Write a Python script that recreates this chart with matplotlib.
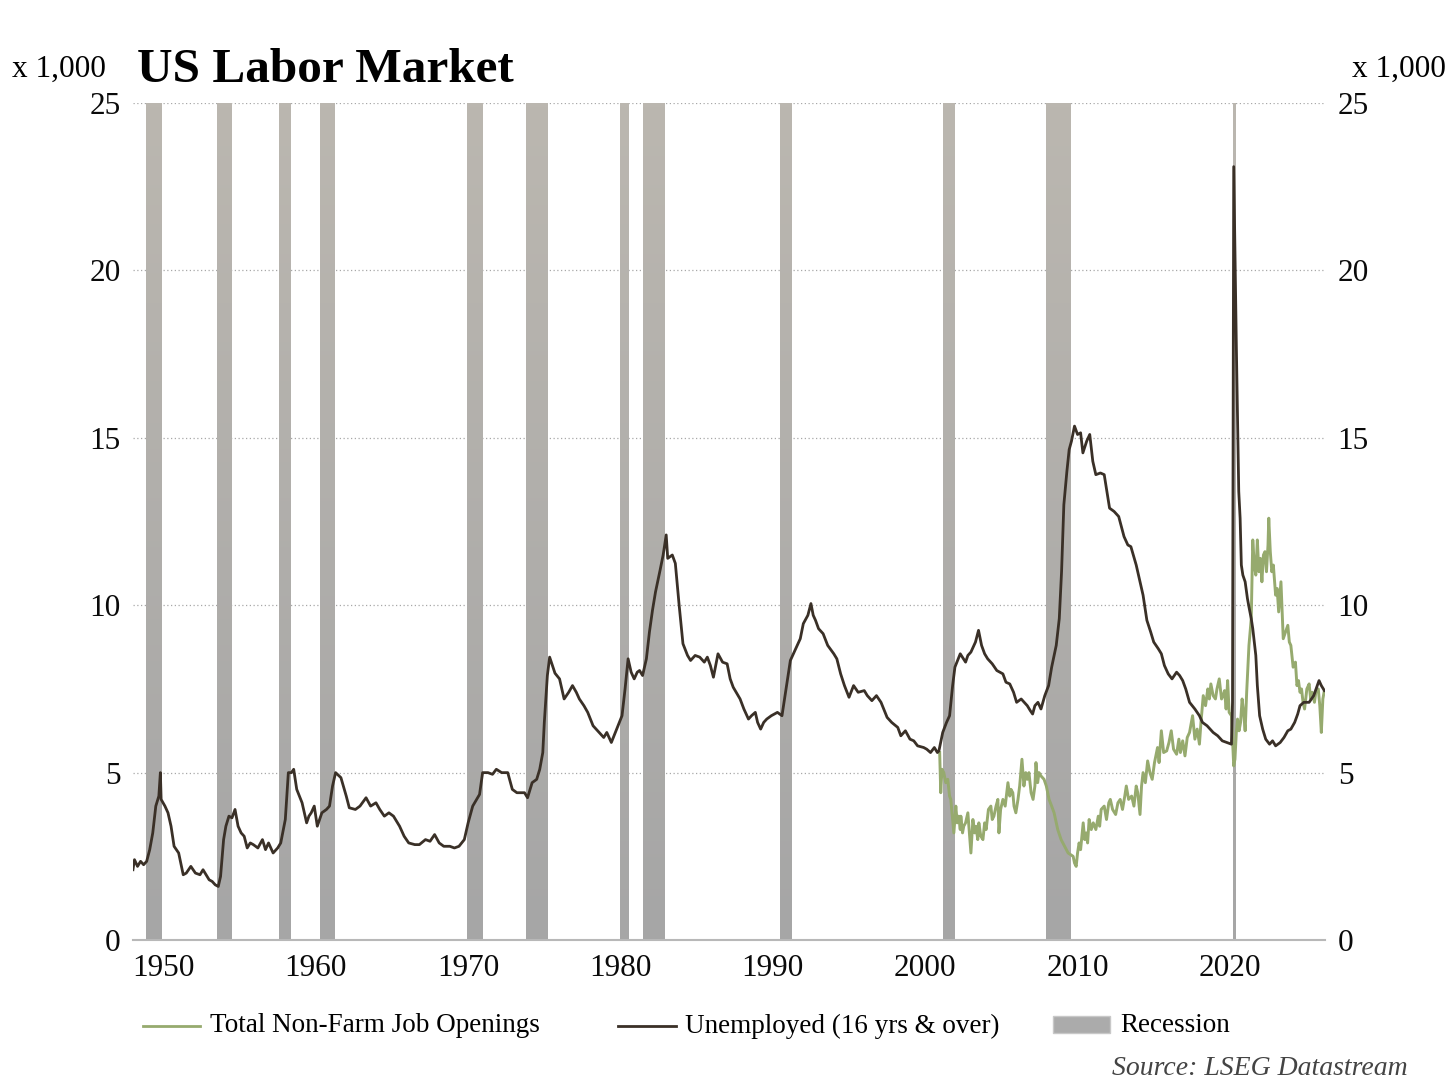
import matplotlib
matplotlib.use("Agg")
import matplotlib.pyplot as plt
import numpy as np
from matplotlib.lines import Line2D
from matplotlib.patches import Rectangle
from matplotlib.colors import LinearSegmentedColormap

plt.rcParams['font.family'] = ['Liberation Serif', 'DejaVu Serif']

# unemployed persons, 16 yrs & over (millions)
unemp_years = [
    1948.0, 1948.1, 1948.3, 1948.5, 1948.7, 1948.9, 1949.1, 1949.3, 1949.5, 1949.7,
    1949.8, 1949.85, 1950.1, 1950.3, 1950.5, 1950.7, 1951.0, 1951.3, 1951.5, 1951.8,
    1952.1, 1952.4, 1952.6, 1953.0, 1953.2, 1953.4, 1953.6, 1953.75, 1953.95, 1954.1,
    1954.3, 1954.5, 1954.7, 1954.9, 1955.1, 1955.3, 1955.5, 1955.7, 1955.9, 1956.2,
    1956.5, 1956.7, 1956.9, 1957.2, 1957.5, 1957.7, 1958.0, 1958.2, 1958.4, 1958.55,
    1958.75, 1959.1, 1959.4, 1959.55, 1959.7, 1959.9, 1960.1, 1960.4, 1960.7, 1960.9,
    1961.1, 1961.3, 1961.65, 1962.0, 1962.2, 1962.6, 1962.9, 1963.3, 1963.6, 1963.95,
    1964.2, 1964.5, 1964.8, 1965.1, 1965.5, 1965.8, 1966.1, 1966.5, 1966.8, 1967.2,
    1967.5, 1967.8, 1968.1, 1968.4, 1968.8, 1969.1, 1969.4, 1969.75, 1970.0, 1970.3,
    1970.75, 1970.95, 1971.3, 1971.6, 1971.85, 1972.2, 1972.6, 1972.9, 1973.2, 1973.7,
    1973.9, 1974.2, 1974.5, 1974.7, 1974.9, 1975.0, 1975.2, 1975.35, 1975.7, 1976.0,
    1976.3, 1976.6, 1976.85, 1977.1, 1977.3, 1977.6, 1977.85, 1978.2, 1978.6, 1978.9,
    1979.1, 1979.4, 1979.75, 1980.1, 1980.3, 1980.5, 1980.7, 1980.9, 1981.1, 1981.25,
    1981.45, 1981.7, 1981.9, 1982.1, 1982.3, 1982.6, 1982.8, 1983.0, 1983.1, 1983.4,
    1983.6, 1983.85, 1984.1, 1984.4, 1984.6, 1984.9, 1985.2, 1985.5, 1985.7, 1985.9,
    1986.1, 1986.4, 1986.7, 1987.0, 1987.2, 1987.4, 1987.85, 1988.1, 1988.4, 1988.6,
    1988.85, 1989.0, 1989.2, 1989.4, 1989.6, 1989.9, 1990.3, 1990.6, 1990.9, 1991.15,
    1991.5, 1991.8, 1992.0, 1992.3, 1992.5, 1992.65, 1992.8, 1993.0, 1993.3, 1993.6,
    1994.0, 1994.2, 1994.45, 1994.7, 1995.0, 1995.3, 1995.6, 1996.0, 1996.2, 1996.5,
    1996.8, 1997.1, 1997.5, 1997.8, 1998.2, 1998.4, 1998.7, 1999.0, 1999.25, 1999.5,
    1999.9, 2000.1, 2000.35, 2000.6, 2000.8, 2000.9, 2001.15, 2001.4, 2001.6, 2001.8,
    2001.95, 2002.3, 2002.65, 2002.8, 2003.0, 2003.3, 2003.5, 2003.7, 2003.9, 2004.1,
    2004.4, 2004.7, 2005.1, 2005.3, 2005.55, 2005.8, 2006.0, 2006.3, 2006.7, 2006.9,
    2007.05, 2007.2, 2007.4, 2007.6, 2007.85, 2008.1, 2008.3, 2008.6, 2008.8, 2008.95,
    2009.1, 2009.3, 2009.45, 2009.6, 2009.8, 2010.0, 2010.2, 2010.35, 2010.6, 2010.8,
    2011.0, 2011.2, 2011.5, 2011.75, 2012.1, 2012.4, 2012.7, 2013.05, 2013.3, 2013.5,
    2013.85, 2014.1, 2014.3, 2014.55, 2014.8, 2015.0, 2015.3, 2015.5, 2015.7, 2015.95,
    2016.2, 2016.5, 2016.7, 2016.9, 2017.1, 2017.35, 2017.7, 2018.0, 2018.2, 2018.5,
    2018.7, 2018.9, 2019.2, 2019.5, 2019.8, 2020.1, 2020.17, 2020.25, 2020.33, 2020.42,
    2020.5, 2020.58, 2020.67, 2020.75, 2020.85, 2021.0, 2021.15, 2021.25, 2021.4, 2021.5,
    2021.6, 2021.7, 2021.8, 2021.95, 2022.15, 2022.35, 2022.6, 2022.8, 2023.0, 2023.3,
    2023.55, 2023.8, 2024.0, 2024.25, 2024.45, 2024.6, 2024.85, 2025.2, 2025.5, 2025.85,
    2026.0, 2026.2,
]
unemp_vals = [
    2.1, 2.4, 2.2, 2.35, 2.25, 2.35, 2.7, 3.2, 4.0, 4.3,
    5.0, 4.2, 4.0, 3.8, 3.4, 2.8, 2.6, 1.95, 2.0, 2.2,
    2.0, 1.95, 2.1, 1.8, 1.75, 1.65, 1.6, 1.9, 3.0, 3.4,
    3.7, 3.65, 3.9, 3.4, 3.2, 3.1, 2.75, 2.9, 2.85, 2.75,
    3.0, 2.7, 2.9, 2.6, 2.75, 2.9, 3.6, 5.0, 5.0, 5.1,
    4.5, 4.1, 3.5, 3.7, 3.8, 4.0, 3.4, 3.8, 3.9, 4.0,
    4.6, 5.0, 4.85, 4.3, 3.95, 3.9, 4.0, 4.25, 4.0, 4.1,
    3.9, 3.7, 3.8, 3.7, 3.4, 3.1, 2.9, 2.85, 2.85, 3.0,
    2.95, 3.15, 2.9, 2.8, 2.8, 2.75, 2.8, 3.0, 3.5, 4.0,
    4.35, 5.0, 5.0, 4.95, 5.1, 5.0, 5.0, 4.5, 4.4, 4.4,
    4.25, 4.7, 4.8, 5.1, 5.6, 6.5, 7.9, 8.45, 7.97, 7.8,
    7.2, 7.4, 7.6, 7.4, 7.2, 7.0, 6.8, 6.4, 6.2, 6.05,
    6.2, 5.9, 6.3, 6.7, 7.5, 8.4, 8.0, 7.8, 8.0, 8.05,
    7.9, 8.4, 9.2, 9.85, 10.4, 11.05, 11.5, 12.1, 11.4, 11.5,
    11.25, 10.0, 8.85, 8.5, 8.35, 8.5, 8.45, 8.3, 8.45, 8.2,
    7.85, 8.55, 8.3, 8.25, 7.8, 7.55, 7.2, 6.9, 6.6, 6.7,
    6.8, 6.5, 6.3, 6.5, 6.6, 6.7, 6.8, 6.7, 7.6, 8.35,
    8.7, 9.0, 9.45, 9.7, 10.05, 9.7, 9.55, 9.3, 9.15, 8.8,
    8.55, 8.4, 7.95, 7.6, 7.25, 7.6, 7.4, 7.45, 7.3, 7.15,
    7.3, 7.1, 6.65, 6.5, 6.35, 6.1, 6.25, 6.0, 5.95, 5.8,
    5.75, 5.7, 5.6, 5.75, 5.6, 5.65, 6.2, 6.5, 6.7, 7.6,
    8.15, 8.55, 8.3, 8.5, 8.6, 8.9, 9.25, 8.8, 8.55, 8.4,
    8.25, 8.05, 7.95, 7.7, 7.65, 7.4, 7.1, 7.2, 7.0, 6.85,
    6.75, 7.0, 7.1, 6.9, 7.3, 7.6, 8.15, 8.8, 9.6, 11.0,
    13.0, 14.0, 14.65, 14.9, 15.35, 15.1, 15.15, 14.55, 14.9, 15.1,
    14.3, 13.9, 13.95, 13.9, 12.9, 12.8, 12.65, 12.05, 11.8, 11.75,
    11.2, 10.7, 10.3, 9.55, 9.2, 8.9, 8.7, 8.55, 8.2, 7.95,
    7.8, 8.0, 7.9, 7.75, 7.5, 7.1, 6.9, 6.7, 6.5, 6.4,
    6.3, 6.2, 6.1, 5.95, 5.9, 5.85, 7.1, 23.1, 20.5, 17.8,
    15.5, 13.4, 12.6, 11.2, 10.9, 10.7, 10.2, 9.95, 9.6, 9.3,
    8.9, 8.5, 7.6, 6.7, 6.3, 6.0, 5.85, 5.95, 5.8, 5.9,
    6.05, 6.25, 6.3, 6.5, 6.75, 7.0, 7.1, 7.1, 7.3, 7.75,
    7.6, 7.45,
]

# total non-farm job openings (millions)
jobs_years = [
    2000.95, 2001.02, 2001.1, 2001.22, 2001.35, 2001.48, 2001.6, 2001.68, 2001.8, 2001.88,
    2002.01, 2002.1, 2002.2, 2002.3, 2002.34, 2002.45, 2002.53, 2002.65, 2002.8, 2002.9,
    2003.0, 2003.13, 2003.25, 2003.33, 2003.45, 2003.52, 2003.65, 2003.79, 2003.9, 2004.0,
    2004.15, 2004.31, 2004.4, 2004.51, 2004.65, 2004.77, 2004.84, 2004.95, 2005.1, 2005.25,
    2005.43, 2005.55, 2005.63, 2005.75, 2005.83, 2005.95, 2006.09, 2006.2, 2006.35, 2006.48,
    2006.6, 2006.7, 2006.81, 2006.95, 2007.08, 2007.2, 2007.27, 2007.38, 2007.47, 2007.6,
    2007.8, 2007.95, 2008.13, 2008.3, 2008.46, 2008.7, 2008.92, 2009.15, 2009.38, 2009.55,
    2009.71, 2009.8, 2009.91, 2010.0, 2010.1, 2010.2, 2010.37, 2010.47, 2010.57, 2010.66,
    2010.76, 2010.9, 2011.03, 2011.2, 2011.36, 2011.45, 2011.55, 2011.75, 2011.9, 2012.05,
    2012.15, 2012.3, 2012.5, 2012.65, 2012.8, 2012.95, 2013.1, 2013.2, 2013.35, 2013.55,
    2013.7, 2013.85, 2013.95, 2014.1, 2014.2, 2014.3, 2014.45, 2014.6, 2014.75, 2014.9,
    2015.05, 2015.25, 2015.35, 2015.5, 2015.65, 2015.85, 2016.0, 2016.15, 2016.3, 2016.5,
    2016.65, 2016.75, 2016.9, 2017.05, 2017.2, 2017.35, 2017.55, 2017.7, 2017.85, 2018.0,
    2018.1, 2018.25, 2018.4, 2018.55, 2018.65, 2018.75, 2018.9, 2019.05, 2019.15, 2019.3,
    2019.45, 2019.55, 2019.65, 2019.75, 2019.85, 2019.95, 2020.1, 2020.17, 2020.25, 2020.33,
    2020.42, 2020.5, 2020.6, 2020.7, 2020.8, 2020.9, 2021.0, 2021.1, 2021.25, 2021.4,
    2021.5, 2021.6, 2021.7, 2021.8, 2021.9, 2022.0, 2022.1, 2022.2, 2022.3, 2022.4,
    2022.5, 2022.55, 2022.65, 2022.75, 2022.85, 2023.0, 2023.1, 2023.2, 2023.35, 2023.45,
    2023.5, 2023.65, 2023.8, 2023.9, 2024.0, 2024.15, 2024.3, 2024.4, 2024.5, 2024.6,
    2024.7, 2024.8, 2024.9, 2025.05, 2025.2, 2025.3, 2025.4, 2025.55, 2025.65, 2025.8,
    2025.9, 2026.0, 2026.1, 2026.2,
]
jobs_vals = [
    5.6, 4.4, 5.1, 5.0, 4.7, 4.8, 4.3, 4.2, 3.6, 3.2,
    4.0, 3.5, 3.7, 3.3, 3.7, 3.2, 3.4, 3.5, 3.8, 3.2,
    2.6, 3.6, 3.2, 3.4, 3.0, 3.5, 3.1, 3.0, 3.5, 3.3,
    3.9, 4.0, 3.6, 3.7, 4.0, 4.2, 3.2, 3.9, 4.2, 4.0,
    4.7, 4.3, 4.5, 4.4, 4.0, 3.8, 4.2, 4.6, 5.4, 4.6,
    5.0, 4.8, 5.0, 4.4, 4.2, 4.6, 5.3, 4.7, 5.0, 4.9,
    4.8, 4.6, 4.2, 4.0, 3.8, 3.3, 3.0, 2.8, 2.6, 2.55,
    2.5, 2.3, 2.2, 2.6, 2.9, 2.7, 3.5, 3.0, 3.2, 2.9,
    3.6, 3.3, 3.5, 3.3, 3.7, 3.4, 3.9, 4.0, 3.6, 4.1,
    4.2, 3.9, 3.75, 4.1, 4.2, 3.9, 4.3, 4.6, 4.2, 4.3,
    4.0, 4.6, 4.4, 3.75, 4.6, 5.0, 4.7, 5.35, 5.0, 4.8,
    5.3, 5.75, 5.3, 6.25, 5.6, 5.65, 5.9, 6.25, 5.7, 5.55,
    6.0, 5.6, 5.95, 5.5, 6.05, 6.2, 6.7, 6.0, 6.3, 5.85,
    6.5, 7.3, 7.0, 7.5, 7.2, 7.65, 7.3, 7.2, 7.5, 7.8,
    7.2, 7.3, 7.45, 6.9, 7.75, 6.8, 6.7, 6.0, 5.2, 5.4,
    6.2, 6.6, 6.25, 6.5, 7.2, 6.8, 6.25, 7.4, 8.8, 9.6,
    11.95, 11.2, 10.9, 11.95, 11.0, 11.4, 10.7, 11.5, 11.6, 11.0,
    11.8, 12.6, 11.6, 11.0, 11.2, 10.3, 10.5, 9.8, 10.7, 9.6,
    9.0, 9.2, 9.4, 8.9, 8.8, 8.15, 8.3, 7.6, 7.75, 7.4,
    7.5, 7.1, 6.9, 7.5, 7.65, 7.2, 7.4, 7.1, 7.45, 7.5,
    7.0, 6.2, 7.2, 7.45,
]

# NBER recessions (start, end as decimal years)
rec_start = [1948.83, 1953.5, 1957.58, 1960.25, 1969.92, 1973.83, 1980.0, 1981.5, 1990.5, 2001.17, 2007.92, 2020.17]
rec_end = [1949.83, 1954.42, 1958.33, 1961.17, 1970.92, 1975.25, 1980.58, 1982.92, 1991.25, 2001.92, 2009.5, 2020.33]

x_ticks = [1950, 1960, 1970, 1980, 1990, 2000, 2010, 2020]
y_ticks = [0, 5, 10, 15, 20, 25]

GREEN = '#96aa6e'
BROWN = '#3a3027'

fig = plt.figure(figsize=(14.53, 10.81), dpi=100)
ax = fig.add_axes([0.0915, 0.1304, 0.8205, 0.7743])

# recession shading with a soft vertical gradient
rec_cmap = LinearSegmentedColormap.from_list('rec', ['#a6a6a6', '#bbb7b0'])
grad = np.linspace(0, 1, 256).reshape(-1, 1)
for s, e in zip(rec_start, rec_end):
    ax.imshow(grad, extent=[s, e, 0, 25], origin='lower', aspect='auto',
              cmap=rec_cmap, zorder=1, interpolation='bilinear')

ax.plot(jobs_years, jobs_vals, color=GREEN, lw=2.1, zorder=3)
ax.plot(unemp_years, unemp_vals, color=BROWN, lw=2.0, zorder=4)

ax.set_xlim(1948.0, 2026.25)
ax.set_ylim(0, 25)

for v in y_ticks[1:]:
    ax.axhline(v, color='#a8a8a8', lw=0.9, ls=(0, (1, 2)), zorder=0.5)

for side in ['top', 'right', 'left']:
    ax.spines[side].set_visible(False)
ax.spines['bottom'].set_color('#b8b8b8')
ax.spines['bottom'].set_linewidth(1.5)

ax.set_xticks(x_ticks)
ax.set_xticklabels([str(t) for t in x_ticks])
ax.set_yticks(y_ticks)
ax.set_yticklabels([str(t) for t in y_ticks])
ax.tick_params(axis='both', length=0, labelsize=22.5, colors='#0a0a0a')
ax.tick_params(axis='x', pad=10)
ax.tick_params(axis='y', pad=9, labelright=True)

fig.text(0.0943, 0.924, 'US Labor Market', fontsize=35.5, fontweight='bold', va='baseline', ha='left')
fig.text(0.008, 0.929, 'x 1,000', fontsize=22.5, va='baseline', ha='left')
fig.text(0.995, 0.929, 'x 1,000', fontsize=22.5, va='baseline', ha='right')

# legend drawn in figure coords
ly = 1 - 1026 / 1081
fig.add_artist(Line2D([143 / 1453, 200 / 1453], [ly, ly], color=GREEN, lw=2.0, transform=fig.transFigure))
fig.text(210 / 1453, ly, 'Total Non-Farm Job Openings', fontsize=19.5, va='center', ha='left')
fig.add_artist(Line2D([618 / 1453, 676 / 1453], [ly, ly], color=BROWN, lw=2.0, transform=fig.transFigure))
fig.text(685 / 1453, ly, 'Unemployed (16 yrs & over)', fontsize=19.5, va='center', ha='left')
fig.add_artist(Rectangle((1053 / 1453, 1 - 1033 / 1081), 57 / 1453, 17 / 1081, facecolor='#ababab',
                         edgecolor='#c8c8c8', lw=1, transform=fig.transFigure))
fig.text(1120 / 1453, ly, 'Recession', fontsize=19.5, va='center', ha='left')

fig.text(0.969, 0.006, 'Source: LSEG Datastream', fontsize=20, style='italic', color='#444444',
         va='baseline', ha='right')

fig.savefig('out.png', dpi=100)
